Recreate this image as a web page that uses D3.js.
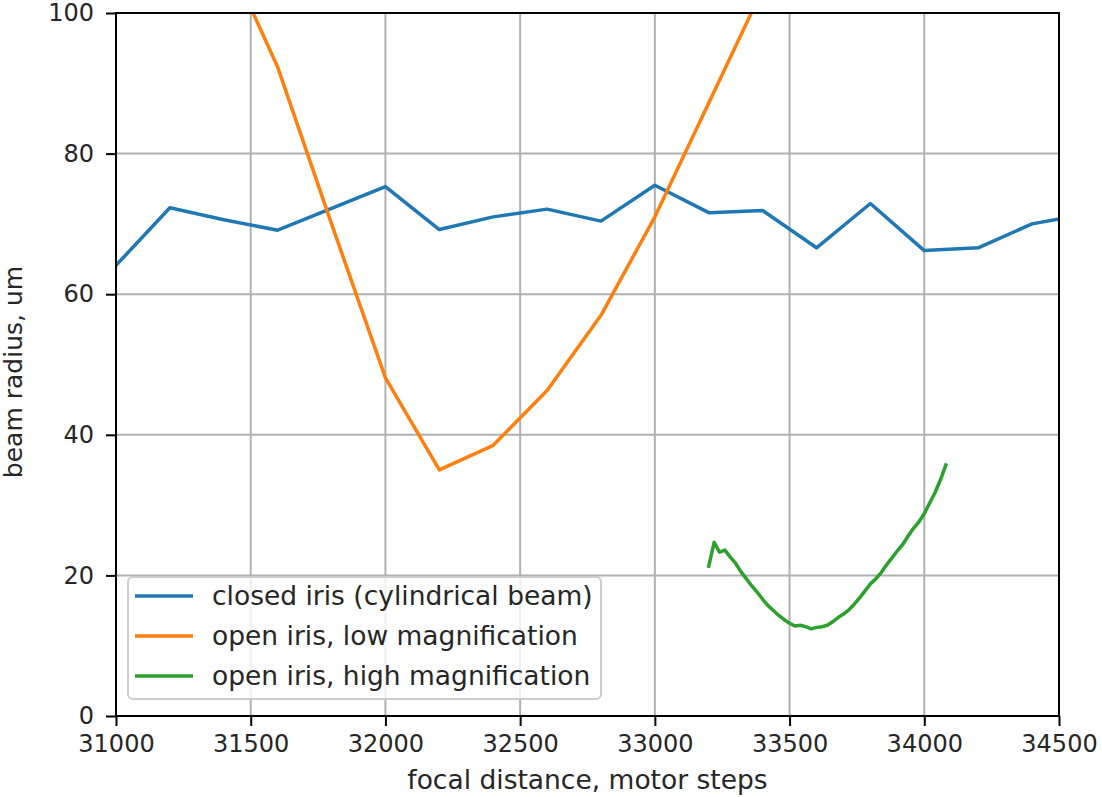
<!DOCTYPE html>
<html>
<head>
<meta charset="utf-8">
<script src="https://cdnjs.cloudflare.com/ajax/libs/d3/7.8.5/d3.min.js"></script>
<style>
    body { margin: 0; background: #ffffff; }
    #chart text { font-family: 'DejaVu Sans', sans-serif; fill: #262626; }
</style>
</head>
<body>
<div id="chart"></div>
<script>
// closed iris, cylindrical beam
const closedSteps = [31000, 31200, 31400, 31600, 31800, 32000, 32200, 32400, 32600, 32800, 33000,
    33200, 33400, 33600, 33800, 34000, 34200, 34400, 34600];
const closedRadius = [64.1, 72.3, 70.6, 69.1, 72.2, 75.3, 69.2, 71.0, 72.1, 70.4, 75.5,
    71.6, 71.9, 66.6, 72.9, 66.2, 66.6, 70.0, 71.4];

// open iris, low magnification
const lowSteps = [31400, 31600, 31800, 32000, 32200, 32400, 32600, 32800, 33000, 33200, 33400];
const lowRadius = [109.2, 92.3, 70.0, 48.1, 35.0, 38.5, 46.3, 57.0, 71.0, 87.2, 103.4];

// open iris, high magnification
const highSteps = [33200, 33220, 33240, 33260, 33280, 33300, 33320, 33340, 33360, 33380,
    33400, 33420, 33440, 33460, 33480, 33500, 33520, 33540, 33560, 33580,
    33600, 33620, 33640, 33660, 33680, 33700, 33720, 33740, 33760, 33780,
    33800, 33820, 33840, 33860, 33880, 33900, 33920, 33940, 33960, 33980,
    34000, 34020, 34040, 34060, 34080];
const highRadius = [21.3, 24.7, 23.3, 23.6, 22.6, 21.7, 20.5, 19.5, 18.5, 17.6,
    16.6, 15.7, 15.0, 14.3, 13.7, 13.2, 12.8, 12.9, 12.7, 12.4,
    12.6, 12.7, 12.9, 13.4, 14.0, 14.5, 15.1, 15.9, 16.8, 17.8,
    18.8, 19.5, 20.4, 21.5, 22.5, 23.5, 24.4, 25.6, 26.7, 27.6,
    28.8, 30.3, 31.8, 33.6, 35.7];

const xTicks = [31000, 31500, 32000, 32500, 33000, 33500, 34000, 34500];
const yTicks = [0, 20, 40, 60, 80, 100];

const seriesNames = ['closed iris (cylindrical beam)', 'open iris, low magnification', 'open iris, high magnification'];
const seriesColors = ['#1f77b4', '#ff7f0e', '#2ca02c'];

const width = 1102;
const height = 797;
const margin = { top: 13, right: 43, bottom: 81, left: 116 };
const innerW = width - margin.left - margin.right;
const innerH = height - margin.top - margin.bottom;
const tickFont = 24;
const labelFont = 26.5;

const series = [
    closedSteps.map((s, i) => ({ x: s, y: closedRadius[i] })),
    lowSteps.map((s, i) => ({ x: s, y: lowRadius[i] })),
    highSteps.map((s, i) => ({ x: s, y: highRadius[i] }))
];

const svg = d3
    .select('#chart')
    .append('svg')
    .attr('width', width)
    .attr('height', height);

const g = svg
    .append('g')
    .attr('transform', `translate(${margin.left}, ${margin.top})`);

const xScale = d3
    .scaleLinear()
    .domain([31000, 34500])
    .range([0, innerW]);

const yScale = d3
    .scaleLinear()
    .domain([0, 100])
    .range([innerH, 0]);

g.append('clipPath')
    .attr('id', 'plot-clip')
    .append('rect')
    .attr('width', innerW)
    .attr('height', innerH);

// Grid code
g.append('g')
    .selectAll('line')
    .data(xTicks)
    .enter()
    .append('line')
        .attr('x1', (d) => xScale(d))
        .attr('x2', (d) => xScale(d))
        .attr('y1', 0)
        .attr('y2', innerH)
        .attr('stroke', '#b0b0b0')
        .attr('stroke-width', 2);

g.append('g')
    .selectAll('line')
    .data(yTicks)
    .enter()
    .append('line')
        .attr('x1', 0)
        .attr('x2', innerW)
        .attr('y1', (d) => yScale(d))
        .attr('y2', (d) => yScale(d))
        .attr('stroke', '#b0b0b0')
        .attr('stroke-width', 2);

// Line code
const line = d3
    .line()
    .x((d) => xScale(d.x))
    .y((d) => yScale(d.y));

g.append('g')
    .attr('clip-path', 'url(#plot-clip)')
    .selectAll('path')
    .data(series)
    .enter()
    .append('path')
        .attr('d', (d) => line(d))
        .attr('fill', 'none')
        .attr('stroke', (d, i) => seriesColors[i])
        .attr('stroke-width', 3.5)
        .attr('stroke-linejoin', 'round')
        .attr('stroke-linecap', 'square');

// X axis code
const xAxis = g
    .append('g')
    .attr('transform', `translate(0, ${innerH})`)
    .call(
        d3.axisBottom(xScale)
            .tickValues(xTicks)
            .tickFormat(d3.format('d'))
            .tickSize(10)
            .tickPadding(9)
    );

// Y axis code
const yAxis = g
    .append('g')
    .call(
        d3.axisLeft(yScale)
            .tickValues(yTicks)
            .tickFormat(d3.format('d'))
            .tickSize(10)
            .tickPadding(12)
    );

[xAxis, yAxis].forEach((axis) => {
    axis.select('.domain').remove();
    axis.selectAll('.tick line').attr('stroke', '#000').attr('stroke-width', 2);
    axis.selectAll('.tick text')
        .attr('font-size', tickFont + 'px')
        .attr('fill', '#262626');
});

// Spines
g.append('rect')
    .attr('width', innerW)
    .attr('height', innerH)
    .attr('fill', 'none')
    .attr('stroke', '#000')
    .attr('stroke-width', 2);

// Axis labels
svg.append('text')
    .attr('x', margin.left + innerW / 2)
    .attr('y', 789)
    .attr('text-anchor', 'middle')
    .attr('font-size', labelFont + 'px')
    .text('focal distance, motor steps');

svg.append('text')
    .attr('transform', `translate(22, 372) rotate(-90)`)
    .attr('text-anchor', 'middle')
    .attr('font-size', '25px')
    .text('beam radius, um');

// Legend
const legend = g
    .append('g')
    .attr('transform', `translate(${128 - margin.left}, ${577 - margin.top})`);

legend.append('rect')
    .attr('width', 473)
    .attr('height', 122)
    .attr('rx', 5)
    .attr('fill', '#ffffff')
    .attr('fill-opacity', 0.8)
    .attr('stroke', '#cccccc')
    .attr('stroke-width', 2);

const rows = legend
    .selectAll('.legend-row')
    .data(seriesNames)
    .enter()
    .append('g')
    .attr('class', 'legend-row')
    .attr('transform', (d, i) => `translate(0, ${19 + i * 40})`);

rows.append('line')
    .attr('x1', 7)
    .attr('x2', 65)
    .attr('stroke', (d, i) => seriesColors[i])
    .attr('stroke-width', 3.5);

rows.append('text')
    .attr('x', 84)
    .attr('dy', '0.35em')
    .attr('font-size', labelFont + 'px')
    .text((d) => d);
</script>
</body>
</html>
